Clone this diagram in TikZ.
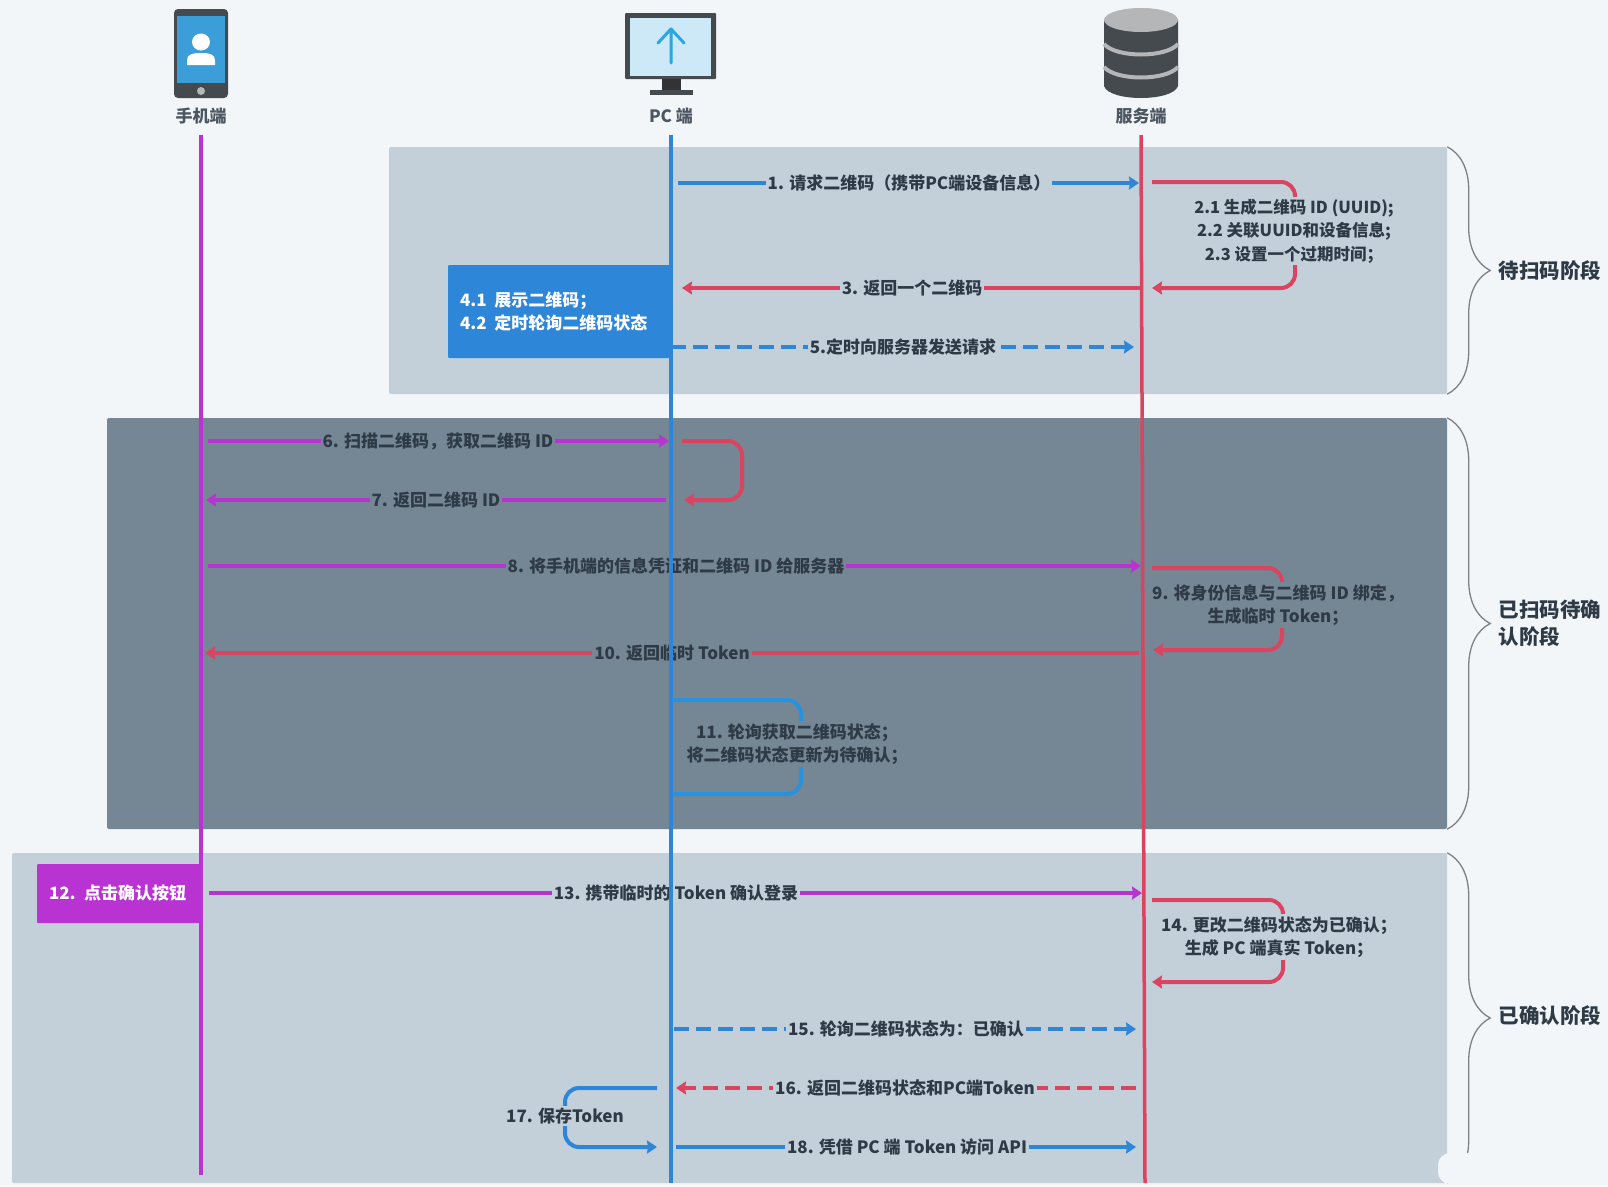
\documentclass[tikz,border=0pt]{standalone}
\usepackage{fontspec}
\setmainfont{Noto Sans CJK SC}
\usetikzlibrary{arrows.meta,decorations.pathreplacing}
\definecolor{pagebg}{HTML}{F2F6F9}
\definecolor{panellight}{HTML}{C3D0DA}
\definecolor{paneldark}{HTML}{758695}
\definecolor{ink}{HTML}{2E3A46}
\definecolor{linepurple}{HTML}{B933D3}
\definecolor{lineblue}{HTML}{2E86D9}
\definecolor{linered}{HTML}{DB4460}
\definecolor{icondark}{HTML}{454A4F}
\definecolor{icongrey}{HTML}{B4B6B7}
\definecolor{phonescreen}{HTML}{3B9ED8}
\definecolor{pcscreen}{HTML}{CDE9F7}
\definecolor{pcarrow}{HTML}{2AA7E0}
\begin{document}
\begin{tikzpicture}[
		x=1pt, y=-1pt,
		>={Stealth[length=10pt,width=13pt,inset=1pt]},
		panel/.style={rectangle, rounded corners=2pt, inner sep=0pt, fill=panellight},
		actor/.style={font=\fontsize{17}{20}\selectfont\bfseries, text=ink!85},
		msg/.style={font=\fontsize{17}{23.5}\selectfont\bfseries, text=ink, inner sep=2pt, fill=panellight, align=center},
		msgdark/.style={msg, fill=paneldark},
		note/.style={rectangle, rounded corners=1pt, text=white, font=\fontsize{17}{23.5}\selectfont\bfseries, align=left, inner sep=0pt},
		phase/.style={font=\fontsize{20.5}{27}\selectfont\bfseries, text=ink, anchor=west, align=left},
		flow/.style={line width=4pt},
		lifeline/.style={line width=3.5pt},
		brace/.style={draw=icondark!70, line width=1.3pt, decorate, decoration={brace, amplitude=43pt}}
	]

	\fill[pagebg] (0,0) rectangle (1608,1186);
	\useasboundingbox (0,0) rectangle (1608,1186);

	% Panels
	\node[panel, minimum width=1058pt, minimum height=247pt] (waitscan) at (918,270.5) {};
	\node[panel, fill=paneldark, minimum width=1340pt, minimum height=411pt] (waitconfirm) at (777,623.5) {};
	\node[panel, minimum width=1435pt, minimum height=330pt] (confirmed) at (729.5,1018) {};

	% Braces
	\draw[brace] (waitscan.north east) -- (waitscan.south east);
	\draw[brace] (waitconfirm.north east) -- (waitconfirm.south east);
	\draw[brace] (confirmed.north east) -- (confirmed.south east);
	\fill[pagebg, rounded corners=12pt] (1438,1153) rectangle (1630,1184);
	\node[phase] (phase1) at (1495,271) {待扫码阶段};
	\node[phase] (phase2) at (1495,623) {已扫码待确\\认阶段};
	\node[phase] (phase3) at (1495,1016) {已确认阶段};

	% Phone icon
	\fill[icondark, rounded corners=4pt] (174,9) rectangle (228,98);
	\fill[phonescreen] (177,16) rectangle (225,83);
	\fill[icongrey] (201,91) circle (4pt);
	\fill[white] (201,42) ellipse [x radius=9pt, y radius=8.5pt];
	\fill[white] (187,65) -- (187,60) .. controls (187,54) and (193,53) .. (201,53) .. controls (209,53) and (215,54) .. (215,60) -- (215,65) -- cycle;
	\node[actor] (phone) at (201,116) {手机端};

	% PC icon
	\fill[icondark, rounded corners=1pt] (625,13) rectangle (716,79);
	\fill[pcscreen] (630,18) rectangle (711,76);
	\fill[black!80] (662,79) rectangle (681,90);
	\fill[icondark] (650,90) rectangle (693,95);
	\draw[pcarrow, line width=3pt, line cap=round, line join=round] (671,63) -- (671,29) (658,43) -- (671,29) -- (684,43);
	\node[actor] (pc) at (671,116) {PC 端};

	% Server icon
	\fill[icondark] (1104,20) -- (1104,86) .. controls (1109,102) and (1173,102) .. (1178,86) -- (1178,20) -- cycle;
	\fill[icongrey] (1141,20) ellipse [x radius=37pt, y radius=12pt];
	\draw[icongrey, line width=4pt] (1104,44) .. controls (1116,58) and (1166,58) .. (1178,44);
	\draw[icongrey, line width=4pt] (1104,67) .. controls (1116,81) and (1166,81) .. (1178,67);
	\node[actor] (server) at (1141,116) {服务端};

	% Note boxes
	\node[note, fill=lineblue, minimum width=223pt, minimum height=93pt, text width=199pt] (show) at (559.5,311.5) {4.1\hspace{0.45em}展示二维码；\\4.2\hspace{0.45em}定时轮询二维码状态};
	\node[note, fill=linepurple, minimum width=163pt, minimum height=59pt, text width=139pt] (press) at (118.5,893.5) {12. 点击确认按钮};

	% Waiting for scan
	\coordinate (a1) at (678,183); \coordinate (b1) at (1139,183);
	\draw[flow, lineblue, ->] (a1) -- (b1);
	\node[msg] (m1) at (909,183) {1. 请求二维码（携带PC端设备信息）};

	\coordinate (a2) at (1152,182); \coordinate (c2) at (1295,288); \coordinate (b2) at (1152,288);
	\draw[flow, linered, ->, rounded corners=14pt] (a2) -| (c2) -- (b2);
	\node[msg, font=\fontsize{16.5}{23.5}\selectfont\bfseries] (m2) at (1294,231) {2.1 生成二维码 ID (UUID);\\2.2 关联UUID和设备信息;\\2.3 设置一个过期时间；};

	\coordinate (a3) at (1141,288); \coordinate (b3) at (682,288);
	\draw[flow, linered, ->] (a3) -- (b3);
	\node[msg] (m3) at (912,288) {3. 返回一个二维码};

	\coordinate (a5) at (671,347); \coordinate (b5) at (1134,347);
	\draw[flow, lineblue, ->, dash pattern=on 15pt off 7pt] (a5) -- (b5);
	\node[msg] (m5) at (903,347) {5.定时向服务器发送请求};

	% Scanned, waiting for confirmation
	\coordinate (a6) at (208,441); \coordinate (b6) at (669,441);
	\draw[flow, linepurple, ->] (a6) -- (b6);
	\node[msgdark] (m6) at (438,441) {6. 扫描二维码，获取二维码 ID};

	\coordinate (a7) at (666,500); \coordinate (b7) at (206,500);
	\draw[flow, linepurple, ->] (a7) -- (b7);
	\node[msgdark] (m7) at (436,500) {7. 返回二维码 ID};

	\coordinate (aback) at (682,441); \coordinate (cback) at (742,500); \coordinate (bback) at (684,500);
	\draw[flow, linered, ->, rounded corners=14pt] (aback) -| (cback) -- (bback);

	\coordinate (a8) at (208,566); \coordinate (b8) at (1141,566);
	\draw[flow, linepurple, ->] (a8) -- (b8);
	\node[msgdark] (m8) at (676,566) {8. 将手机端的信息凭证和二维码 ID 给服务器};

	\coordinate (a9) at (1152,568); \coordinate (c9) at (1282,650); \coordinate (b9) at (1153,650);
	\draw[flow, linered, ->, rounded corners=14pt] (a9) -| (c9) -- (b9);
	\node[msgdark] (m9) at (1278,605) {9. 将身份信息与二维码 ID 绑定，\\生成临时 Token；};

	\coordinate (a10) at (1139,653); \coordinate (b10) at (205,653);
	\draw[flow, linered, ->] (a10) -- (b10);
	\node[msgdark] (m10) at (672,653) {10. 返回临时 Token};

	\coordinate (a11) at (671,700); \coordinate (c11) at (801,794); \coordinate (b11) at (673,794);
	\draw[flow, lineblue!90!cyan, rounded corners=14pt] (a11) -| (c11) -- (b11);
	\node[msgdark] (m11) at (797,744) {11. 轮询获取二维码状态；\\将二维码状态更新为待确认；};

	% Confirmed
	\coordinate (a13) at (209,893); \coordinate (b13) at (1142,893);
	\draw[flow, linepurple, ->] (a13) -- (b13);
	\node[msg] (m13) at (676,893) {13. 携带临时的 Token 确认登录};

	\coordinate (a14) at (1152,900); \coordinate (c14) at (1283,982); \coordinate (b14) at (1152,982);
	\draw[flow, linered, ->, rounded corners=14pt] (a14) -| (c14) -- (b14);
	\node[msg] (m14) at (1279,937) {14. 更改二维码状态为已确认；\\生成 PC 端真实 Token；};

	\coordinate (a15) at (674,1029); \coordinate (b15) at (1136,1029);
	\draw[flow, lineblue, ->, dash pattern=on 15pt off 7pt] (a15) -- (b15);
	\node[msg] (m15) at (906,1029) {15. 轮询二维码状态为：已确认};

	\coordinate (a16) at (1136,1088); \coordinate (b16) at (676,1088);
	\draw[flow, linered, ->, dash pattern=on 15pt off 7pt] (a16) -- (b16);
	\node[msg] (m16) at (905,1088) {16. 返回二维码状态和PC端Token};

	\coordinate (a17) at (657,1088); \coordinate (c17) at (565,1147); \coordinate (b17) at (657,1147);
	\draw[flow, lineblue, ->, rounded corners=14pt] (a17) -| (c17) -- (b17);
	\node[msg] (m17) at (565,1116) {17. 保存Token};

	\coordinate (a18) at (676,1147); \coordinate (b18) at (1136,1147);
	\draw[flow, lineblue, ->] (a18) -- (b18);
	\node[msg] (m18) at (907,1147) {18. 凭借 PC 端 Token 访问 API};

	% Lifelines
	\coordinate (phonetop) at (201,135); \coordinate (phoneend) at (201,1175);
	\coordinate (pctop) at (671,135); \coordinate (pcend) at (671,1183);
	\coordinate (servertop) at (1141,135); \coordinate (serverend) at (1145,1183);
	\draw[lifeline, linepurple] (phonetop) -- (phoneend);
	\draw[lifeline, lineblue] (pctop) -- (pcend);
	\draw[lifeline, linered] (servertop) -- (serverend);

\end{tikzpicture}
\end{document}
